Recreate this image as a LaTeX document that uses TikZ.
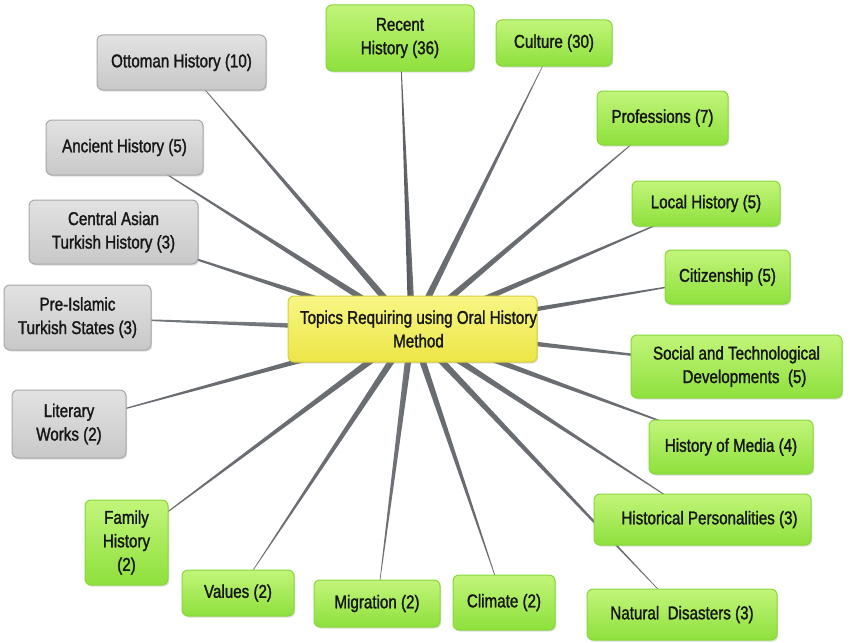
\documentclass[tikz,border=0pt]{standalone}
\usepackage{fontspec}
\setmainfont{Liberation Sans}[FakeStretch=0.82,FakeBold=1.4]
\usetikzlibrary{calc,shadows}
\definecolor{gtop}{HTML}{C2F57A}
\definecolor{gbot}{HTML}{8EE03C}
\definecolor{gborder}{HTML}{86D93A}
\definecolor{ytop}{HTML}{F8F685}
\definecolor{ybot}{HTML}{ECE646}
\definecolor{yborder}{HTML}{D6CF3A}
\definecolor{stop}{HTML}{E2E2E2}
\definecolor{sbot}{HTML}{C8C8C8}
\definecolor{sborder}{HTML}{A8A8A8}
\definecolor{spokecol}{HTML}{2F3338}
\definecolor{spokelight}{HTML}{A4A8AC}
\definecolor{txt}{HTML}{161616}
\tikzset{
  box/.style={draw, line width=1pt, rounded corners=6pt, align=center, inner sep=0pt,
    text=txt, font=\fontsize{18.5}{23.5}\selectfont,
    drop shadow={opacity=0.25, shadow xshift=1.2pt, shadow yshift=-1.5pt}},
  greenbox/.style={box, draw=gborder, top color=gtop, bottom color=gbot},
  graybox/.style={box, draw=sborder, top color=stop, bottom color=sbot},
  hubbox/.style={box, draw=yborder, top color=ytop, bottom color=ybot},
  sz/.style n args={2}{minimum width=#1pt, minimum height=#2pt}
}
\begin{document}
\begin{tikzpicture}[x=1pt,y=-1pt]
\useasboundingbox (0,0) rectangle (850,642);
\fill[white] (0,0) rectangle (850,642);
\coordinate (hub) at (412,330);
% outer nodes (positions)
\path
  (400,38) coordinate (p-recent)
  (554,43) coordinate (p-culture)
  (662.5,118) coordinate (p-prof)
  (706,203.5) coordinate (p-local)
  (727.5,277) coordinate (p-citizen)
  (736.5,366.5) coordinate (p-social)
  (731,447) coordinate (p-media)
  (702.5,519.5) coordinate (p-hpers)
  (682,614.5) coordinate (p-natural)
  (504,602.5) coordinate (p-climate)
  (377,603.5) coordinate (p-migration)
  (238,593) coordinate (p-values)
  (126.5,542.5) coordinate (p-family)
  (69,424) coordinate (p-literary)
  (77.5,317.5) coordinate (p-preislamic)
  (113.5,232) coordinate (p-central)
  (124.5,147.5) coordinate (p-ancient)
  (181.5,62.5) coordinate (p-ottoman);
% spokes (tapered, fading outwards)
\foreach \nm in {recent,culture,prof,local,citizen,social,media,hpers,natural,climate,migration,values,family,literary,preislamic,central,ancient,ottoman}{
  \path let \p1=($(p-\nm)-(hub)$), \n1={atan2(\y1,\x1)} in \pgfextra{\xdef\spokeang{\n1}};
  \shade[left color=spokecol, right color=spokelight, shading angle=\spokeang]
    ($(hub)!3.6pt!90:(p-\nm)$) -- ($(hub)!3.6pt!-90:(p-\nm)$) -- (p-\nm) -- cycle;
}
% boxes
\node[greenbox, sz={148}{66}] (recent) at (p-recent) {Recent\\History (36)};
\node[greenbox, sz={116}{46}] (culture) at (p-culture) {Culture (30)};
\node[greenbox, sz={131}{54}] (prof) at (p-prof) {Professions (7)};
\node[greenbox, sz={148}{45}] (local) at (p-local) {Local History (5)};
\node[greenbox, sz={125}{54}] (citizen) at (p-citizen) {Citizenship (5)};
\node[greenbox, sz={211}{63}] (social) at (p-social) {Social and Technological\\\hspace*{16pt}Developments~~(5)};
\node[greenbox, sz={164}{54}] (media) at (p-media) {History of Media (4)};
\node[greenbox, sz={217}{51}] (hpers) at (p-hpers) {\hspace*{14pt}Historical Personalities (3)};
\node[greenbox, sz={190}{51}] (natural) at (p-natural) {Natural~~Disasters (3)};
\node[greenbox, sz={102}{55}] (climate) at (p-climate) {Climate (2)};
\node[greenbox, sz={126}{47}] (migration) at (p-migration) {Migration (2)};
\node[greenbox, sz={112}{46}] (values) at (p-values) {Values (2)};
\node[greenbox, sz={83}{85}] (family) at (p-family) {Family\\History\\(2)};
\node[graybox, sz={114}{68}] (literary) at (p-literary) {Literary\\Works (2)};
\node[graybox, sz={147}{65}] (preislamic) at (p-preislamic) {Pre-Islamic\\Turkish States (3)};
\node[graybox, sz={169}{64}] (central) at (p-central) {Central Asian\\Turkish History (3)};
\node[graybox, sz={157}{55}] (ancient) at (p-ancient) {Ancient History (5)};
\node[graybox, sz={169}{55}] (ottoman) at (p-ottoman) {Ottoman History (10)};
\node[hubbox, sz={249}{66}] (center) at (412.5,329) {\hspace*{12pt}Topics Requiring using Oral History\\\hspace*{12pt}Method};
\end{tikzpicture}
\end{document}
